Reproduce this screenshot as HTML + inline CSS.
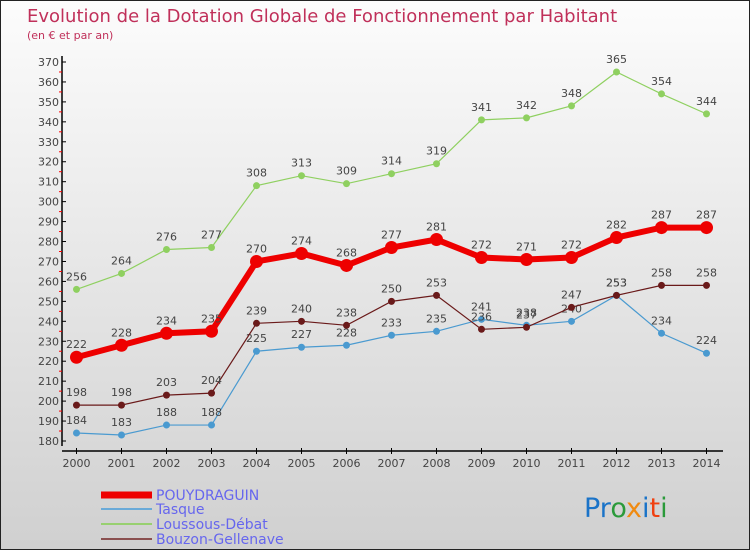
<!DOCTYPE html>
<html><head><meta charset="utf-8"><style>
body{margin:0}
#c{width:750px;height:550px;position:relative;background:linear-gradient(#fcfcfc,#d0d0d0);box-sizing:border-box;border:1px solid #222;overflow:hidden;font-family:"DejaVu Sans","Liberation Sans",sans-serif}
svg text{font-family:"DejaVu Sans","Liberation Sans",sans-serif}
</style></head><body>
<div id="c">
<svg id="s" width="750" height="550">
<text x="26" y="21" font-size="18" fill="#c0305a">Evolution de la Dotation Globale de Fonctionnement par Habitant</text>
<text x="26" y="38" font-size="11" fill="#c0305a">(en € et par an)</text>
<g id="axes"></g><g id="series"></g><g id="legend"></g>
<text x="583" y="516" font-size="27"><tspan fill="#1a73c8">Pr</tspan><tspan fill="#2a9a3a">o</tspan><tspan fill="#f08a10">x</tspan><tspan fill="#1a73c8">i</tspan><tspan fill="#f04010">t</tspan><tspan fill="#2a9a3a">i</tspan></text>
</svg></div>
<script>
const years=[2000,2001,2002,2003,2004,2005,2006,2007,2008,2009,2010,2011,2012,2013,2014];
const pouy=[222,228,234,235,270,274,268,277,281,272,271,272,282,287,287];
const tasque=[184,183,188,188,225,227,228,233,235,241,238,240,253,234,224];
const loussous=[256,264,276,277,308,313,309,314,319,341,342,348,365,354,344];
const bouzon=[198,198,203,204,239,240,238,250,253,236,237,247,253,258,258];
const yTicks=[180,190,200,210,220,230,240,250,260,270,280,290,300,310,320,330,340,350,360,370];
const NS='http://www.w3.org/2000/svg';
const X=i=>75.5+i*45;
const Y=v=>440-(v-180)*(379/190);
function mk(t,a,p){const e=document.createElementNS(NS,t);for(const k in a)e.setAttribute(k,a[k]);p.appendChild(e);return e;}
const ax=document.getElementById('axes');
const yl=mk('line',{x1:61,y1:55,x2:61,y2:445,stroke:'#000','stroke-width':1.5},ax);


const xl=mk('line',{x1:61,y1:450,x2:722,y2:450,stroke:'#000','stroke-width':1.5},ax);


yTicks.forEach((v,i)=>{
 mk('line',{x1:61,y1:Y(v),x2:65,y2:Y(v),stroke:'#000'},ax);
 if(i<yTicks.length-1)mk('line',{x1:58,y1:Y(v+5),x2:61,y2:Y(v+5),stroke:'red'},ax);
 const t=mk('text',{x:58,y:Y(v)+4,'font-size':11,fill:'#444','text-anchor':'end'},ax);t.textContent=v;
 
 
});
years.forEach((y,i)=>{
 mk('line',{x1:X(i),y1:447,x2:X(i),y2:453,stroke:'#000'},ax);
 const t=mk('text',{x:X(i),y:466,'font-size':11,fill:'#444','text-anchor':'middle'},ax);t.textContent=y;
 
 
});
const sg=document.getElementById('series');
function series(data,color,w,r,name){
 const g=mk('g',{},sg);
 
 
 mk('polyline',{points:data.map((v,i)=>X(i)+','+Y(v)).join(' '),fill:'none',stroke:color,'stroke-width':w},g);
 data.forEach((v,i)=>{
  const c=mk('circle',{cx:X(i),cy:Y(v),r:r,fill:color},g);
  
  
  const t=mk('text',{x:X(i),y:Y(v)-9,'font-size':11,fill:'#444','text-anchor':'middle'},g);t.textContent=v;
 });
}
series(loussous,'#8fd060',1.2,3.5,'series-loussous-debat');
series(tasque,'#4a9ad0',1.2,3.5,'series-tasque');
series(bouzon,'#6a1a1a',1.2,3.5,'series-bouzon-gellenave');
series(pouy,'#ee0000',6,6.5,'series-pouydraguin');
const lg=document.getElementById('legend');
[['POUYDRAGUIN','#ee0000',7,494],['Tasque','#6aaad8',2,508],['Loussous-Débat','#98d070',2,523],['Bouzon-Gellenave','#8a5050',2,538]].forEach(([n,c,w,y])=>{
 const g=mk('g',{},lg);
 
 
 mk('line',{x1:100,y1:y,x2:151,y2:y,stroke:c,'stroke-width':w},g);
 const t=mk('text',{x:155,y:y+5,'font-size':14,fill:'#6666ee'},g);t.textContent=n;
});
</script>
</body></html>
